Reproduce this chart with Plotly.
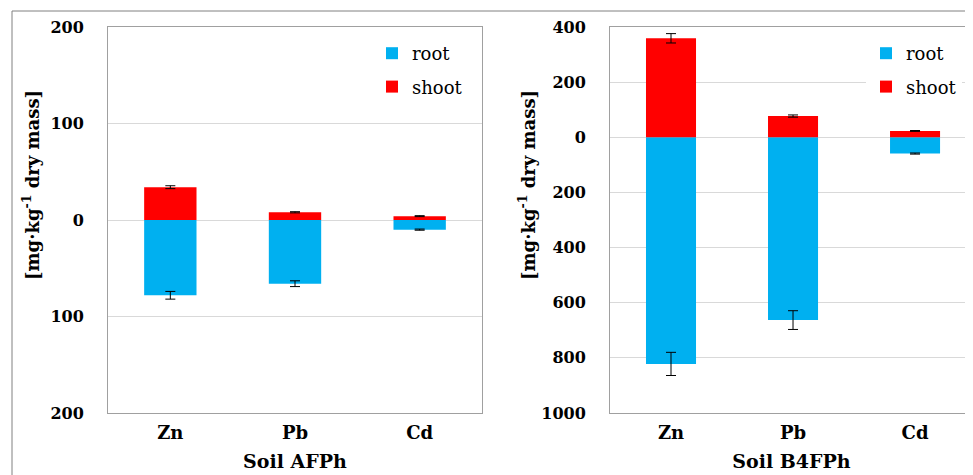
import plotly.graph_objects as go

# ---------------- data ----------------
metals = ["Zn", "Pb", "Cd"]

afph_root = [78, 66, 10]
afph_root_err = [4, 3, 0.6]
afph_shoot = [34, 8, 4]
afph_shoot_err = [1.5, 0.6, 0.5]

b4fph_root = [822, 663, 59]
b4fph_root_err = [42, 34, 2]
b4fph_shoot = [359, 77, 23]
b4fph_shoot_err = [17, 4, 1.5]

left_tickvals = [-200, -100, 0, 100, 200]
left_ticktext = ["200", "100", "0", "100", "200"]
right_tickvals = [-1000, -800, -600, -400, -200, 0, 200, 400]
right_ticktext = ["1000", "800", "600", "400", "200", "0", "200", "400"]

ROOT_C = "#00b0f0"
SHOOT_C = "#ff0000"
FONT = "DejaVu Serif, Liberation Serif, serif"
OFF = 8                    # page body margin in the browser
W, H = 973 - OFF, 475 - OFF

def px_x(p):
    return (p - OFF) / W

def px_y(p):
    return 1 - (p - OFF) / H

fig = go.Figure()

def add_panel(root, root_err, shoot, shoot_err, xa, ya, legend, bw):
    fig.add_trace(go.Bar(
        x=metals, y=[-v for v in root], name="root",
        marker=dict(color=ROOT_C, line=dict(width=0)), width=bw,
        error_y=dict(type="data", array=root_err, color="black", thickness=1, width=5),
        xaxis=xa, yaxis=ya, legend=legend, legendgroup=legend + "r",
    ))
    fig.add_trace(go.Bar(
        x=metals, y=shoot, name="shoot",
        marker=dict(color=SHOOT_C, line=dict(width=0)), width=bw,
        error_y=dict(type="data", array=shoot_err, color="black", thickness=1, width=5),
        xaxis=xa, yaxis=ya, legend=legend, legendgroup=legend + "s",
    ))

add_panel(afph_root, afph_root_err, afph_shoot, afph_shoot_err, "x", "y", "legend", 0.42)
add_panel(b4fph_root, b4fph_root_err, b4fph_shoot, b4fph_shoot_err, "x2", "y2", "legend2", 0.41)

tickfont = dict(family=FONT, size=16, color="black", weight="bold")
catfont = dict(family=FONT, size=18, color="black", weight="bold")
titlefont = dict(family=FONT, size=19, color="black", weight="bold")
BORDER = "#a0a0a0"
GRID = "#d9d9d9"

ydom = [px_y(413), px_y(27)]

legend_common = dict(
    font=dict(family=FONT, size=18, color="black", weight="normal", style="normal"),
    bgcolor="white", borderwidth=0, traceorder="grouped", tracegroupgap=7,
    xanchor="left", yanchor="top", itemclick=False,
)

fig.update_layout(
    width=W, height=H, autosize=False,
    font=dict(family=FONT, color="black"),
    margin=dict(l=0, r=0, t=0, b=0, pad=0, autoexpand=False),
    paper_bgcolor="white", plot_bgcolor="white",
    barmode="relative",
    xaxis=dict(domain=[px_x(108), px_x(482)], range=[-0.5, 2.5], automargin=False,
               showline=True, mirror=True, linecolor=BORDER, linewidth=1,
               ticks="", tickfont=catfont, ticklabelstandoff=3,
               title=dict(text="Soil AFPh", font=titlefont, standoff=13)),
    yaxis=dict(domain=ydom, range=[-200, 200], tickvals=left_tickvals, ticktext=left_ticktext,
               automargin=False,
               showline=True, mirror=True, linecolor=BORDER, linewidth=1,
               gridcolor=GRID, zeroline=False, tickfont=tickfont, ticks="",
               ticklabelstandoff=20),
    xaxis2=dict(domain=[px_x(610), 1.0], range=[-0.5, 2.475], anchor="y2", automargin=False,
                showline=True, mirror=True, linecolor=BORDER, linewidth=1,
                ticks="", tickfont=catfont, ticklabelstandoff=3,
                title=dict(text="Soil B4FPh", font=titlefont, standoff=13)),
    yaxis2=dict(domain=ydom, range=[-1000, 400], tickvals=right_tickvals, ticktext=right_ticktext,
                anchor="x2", automargin=False, showline=True, mirror=False, linecolor=BORDER, linewidth=1,
                gridcolor=GRID, zeroline=False, tickfont=tickfont, ticks="",
                ticklabelstandoff=20),
    legend=dict(x=px_x(372), y=px_y(35), **legend_common),
    legend2=dict(x=px_x(866), y=px_y(35), **legend_common),
    showlegend=True,
)

ytitle = "[mg·kg<sup>-1</sup> dry mass]"
for xp in (31, 527):
    fig.add_annotation(text=ytitle, xref="paper", yref="paper", x=px_x(xp), y=px_y(185),
                       textangle=-90, showarrow=False, xanchor="center", yanchor="middle",
                       font=dict(family=FONT, size=18, color="black", weight="bold"))

fig.add_shape(type="path", xref="paper", yref="paper",
              path=f"M {px_x(12)},0 L {px_x(12)},{px_y(11)} L 1,{px_y(11)}",
              line=dict(color="#808080", width=1))

fig.write_html("out.html")
